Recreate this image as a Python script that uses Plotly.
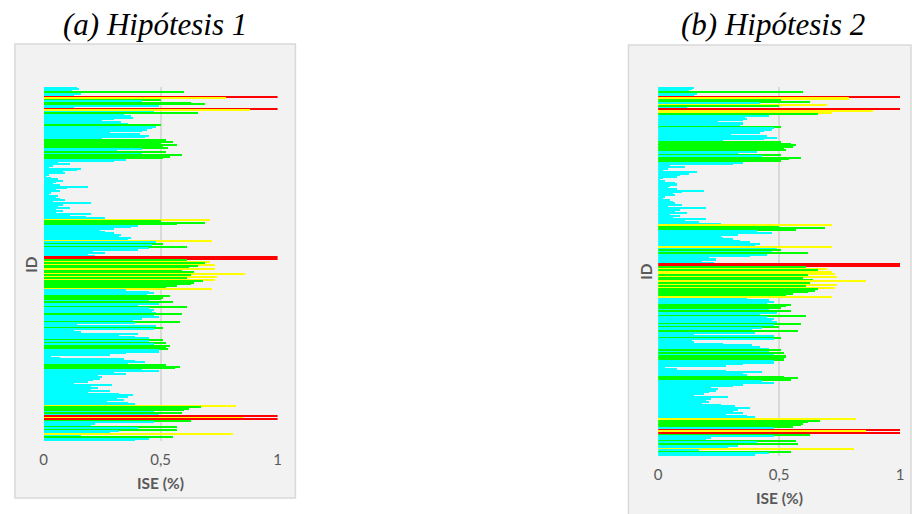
import plotly.graph_objects as go

# ISE (%) per ID, listed from the top row of each panel to the bottom row
ise_h1 = [
    0.14, 0.15, 0.12, 0.60, 0.16, 0.13, 1.00, 0.78, 0.50, 0.42,
    0.63, 0.69, 0.49, 0.13, 1.00, 0.88, 0.47, 0.66, 0.34, 0.37,
    0.38, 0.30, 0.25, 0.33, 0.36, 0.50, 0.48, 0.46, 0.44, 0.42,
    0.28, 0.41, 0.45, 0.43, 0.25, 0.52, 0.55, 0.50, 0.57, 0.51,
    0.53, 0.42, 0.31, 0.52, 0.42, 0.59, 0.54, 0.51, 0.35, 0.30,
    0.06, 0.11, 0.04, 0.02, 0.16, 0.14, 0.08, 0.09, 0.02, 0.01,
    0.03, 0.06, 0.08, 0.05, 0.04, 0.07, 0.19, 0.10, 0.05, 0.07,
    0.03, 0.02, 0.06, 0.05, 0.07, 0.09, 0.04, 0.20, 0.08, 0.06,
    0.11, 0.05, 0.08, 0.05, 0.20, 0.11, 0.18, 0.26, 0.71, 0.50,
    0.69, 0.57, 0.40, 0.37, 0.30, 0.24, 0.26, 0.30, 0.33, 0.32,
    0.37, 0.36, 0.72, 0.48, 0.51, 0.46, 0.61, 0.45, 0.40, 0.21,
    0.26, 0.19, 0.22, 1.00, 1.00, 0.61, 0.71, 0.69, 0.73, 0.66,
    0.62, 0.73, 0.59, 0.64, 0.86, 0.63, 0.74, 0.61, 0.73, 0.68,
    0.64, 0.63, 0.57, 0.52, 0.72, 0.35, 0.45, 0.47, 0.44, 0.54,
    0.51, 0.50, 0.45, 0.55, 0.49, 0.40, 0.61, 0.45, 0.47, 0.46,
    0.48, 0.59, 0.47, 0.49, 0.42, 0.38, 0.58, 0.39, 0.14, 0.48,
    0.51, 0.47, 0.13, 0.16, 0.40, 0.32, 0.39, 0.45, 0.51, 0.45,
    0.52, 0.47, 0.54, 0.52, 0.53, 0.49, 0.49, 0.35, 0.28, 0.03,
    0.07, 0.34, 0.39, 0.43, 0.36, 0.52, 0.58, 0.56, 0.42, 0.49,
    0.30, 0.35, 0.23, 0.25, 0.24, 0.21, 0.19, 0.13, 0.29, 0.20,
    0.23, 0.20, 0.28, 0.19, 0.32, 0.38, 0.36, 0.31, 0.34, 0.27,
    0.36, 0.39, 0.82, 0.67, 0.62, 0.60, 0.47, 0.59, 0.49, 1.00,
    0.85, 1.00, 0.63, 0.47, 0.22, 0.20, 0.57, 0.40, 0.57, 0.32,
    0.28, 0.81, 0.16, 0.55, 0.45, 0.39,
]

ise_h2 = [
    0.15, 0.14, 0.13, 0.60, 0.16, 0.15, 1.00, 0.79, 0.51, 0.63,
    0.42, 0.70, 0.50, 0.12, 1.00, 0.89, 0.72, 0.66, 0.46, 0.36,
    0.37, 0.35, 0.25, 0.35, 0.34, 0.51, 0.48, 0.47, 0.44, 0.42,
    0.30, 0.45, 0.49, 0.44, 0.27, 0.51, 0.55, 0.57, 0.56, 0.52,
    0.53, 0.41, 0.33, 0.51, 0.43, 0.59, 0.54, 0.51, 0.35, 0.31,
    0.05, 0.11, 0.04, 0.02, 0.16, 0.13, 0.09, 0.08, 0.02, 0.01,
    0.03, 0.07, 0.08, 0.05, 0.04, 0.08, 0.19, 0.10, 0.06, 0.07,
    0.03, 0.02, 0.05, 0.06, 0.07, 0.10, 0.04, 0.20, 0.09, 0.07,
    0.12, 0.05, 0.09, 0.06, 0.20, 0.11, 0.17, 0.26, 0.72, 0.50,
    0.69, 0.57, 0.41, 0.47, 0.33, 0.26, 0.27, 0.31, 0.34, 0.38,
    0.42, 0.40, 0.72, 0.49, 0.51, 0.47, 0.62, 0.45, 0.38, 0.21,
    0.24, 0.18, 0.23, 1.00, 1.00, 0.61, 0.70, 0.66, 0.72, 0.73,
    0.62, 0.74, 0.60, 0.64, 0.86, 0.63, 0.74, 0.61, 0.73, 0.66,
    0.65, 0.62, 0.56, 0.53, 0.72, 0.37, 0.46, 0.48, 0.45, 0.55,
    0.53, 0.51, 0.46, 0.55, 0.49, 0.42, 0.61, 0.45, 0.48, 0.47,
    0.49, 0.59, 0.48, 0.50, 0.43, 0.39, 0.58, 0.40, 0.15, 0.48,
    0.51, 0.48, 0.14, 0.15, 0.27, 0.39, 0.42, 0.46, 0.51, 0.46,
    0.52, 0.48, 0.53, 0.52, 0.52, 0.48, 0.48, 0.35, 0.28, 0.03,
    0.08, 0.28, 0.43, 0.35, 0.37, 0.52, 0.58, 0.55, 0.43, 0.48,
    0.35, 0.31, 0.22, 0.25, 0.24, 0.21, 0.19, 0.15, 0.29, 0.22,
    0.20, 0.21, 0.18, 0.26, 0.32, 0.38, 0.33, 0.31, 0.35, 0.28,
    0.37, 0.40, 0.82, 0.67, 0.62, 0.60, 0.59, 0.56, 0.48, 1.00,
    0.86, 1.00, 0.63, 0.48, 0.22, 0.20, 0.57, 0.41, 0.58, 0.33,
    0.29, 0.81, 0.17, 0.55, 0.46, 0.40,
]

ids = list(range(1, len(ise_h1) + 1))

titles = ["(a) Hipótesis 1", "(b) Hipótesis 2"]
x_ticks = [0, 0.5, 1]
x_tick_text = ["0", "0,5", "1"]
x_title = "ISE (%)"
y_title = "ID"

W, H = 912, 514


def band_color(v):
    if v >= 1.0:
        return "#FF0000"
    if v >= 0.7:
        return "#FFFF00"
    if v >= 0.5:
        return "#00FF00"
    return "#00FFFF"


def px_x(p):
    return p / W


def px_y(p):
    return 1 - p / H


# panel geometry in pixels: (plot left, plot right, plot top, plot bottom), frame box
panels = [
    dict(plot=(40, 276, 87, 441), frame=(11, 294, 44, 498)),
    dict(plot=(660, 904, 87, 456), frame=(630, 915, 45, 520)),
]

fig = go.Figure()
tick_font = dict(family="Lato, 'Open Sans', sans-serif", size=15, color="#595959")
title_font = dict(family="Lato, 'Open Sans', sans-serif", size=15.5, color="#595959")

for k, (vals, pan) in enumerate(zip([ise_h1, ise_h2], panels)):
    sfx = "" if k == 0 else str(k + 1)
    fig.add_trace(go.Bar(
        x=vals, y=ids, orientation="h",
        marker=dict(color=[band_color(v) for v in vals], line=dict(width=0)),
        xaxis="x" + sfx, yaxis="y" + sfx, showlegend=False,
    ))
    l, r, t, b = pan["plot"]
    fig.layout["xaxis" + sfx] = dict(
        domain=[px_x(l), px_x(r)], range=[0, 1], anchor="y" + sfx,
        tickvals=x_ticks, ticktext=x_tick_text, showgrid=True,
        gridcolor="#D9D9D9", gridwidth=1.5, zeroline=False, showline=False,
        ticks="", tickfont=tick_font, ticklabelstandoff=8,
    )
    fig.layout["yaxis" + sfx] = dict(
        domain=[px_y(b), px_y(t)], anchor="x" + sfx, type="category",
        autorange="reversed", showticklabels=False, showgrid=False,
        zeroline=False, showline=False, ticks="",
    )
    fl, fr, ft, fb = pan["frame"]
    fig.add_shape(type="rect", xref="paper", yref="paper",
                  x0=px_x(fl), x1=px_x(fr), y0=px_y(fb), y1=px_y(ft),
                  fillcolor="#F2F2F2", line=dict(color="#D9D9D9", width=1.5),
                  layer="below")
    # axis titles
    fig.add_annotation(text="<b>" + x_title + "</b>", xref="paper", yref="paper",
                       x=px_x((l + r) / 2), y=px_y(b + 42), showarrow=False,
                       font=title_font, xanchor="center", yanchor="middle")
    fig.add_annotation(text="<b>" + y_title + "</b>", xref="paper", yref="paper",
                       x=px_x(l - 13), y=px_y((t + b) / 2), showarrow=False,
                       textangle=-90, font=title_font,
                       xanchor="center", yanchor="middle")

# panel captions
for cap, cx in zip(titles, [152, 776]):
    fig.add_annotation(text="<i>" + cap + "</i>", xref="paper", yref="paper",
                       x=px_x(cx), y=px_y(24), showarrow=False,
                       font=dict(family="'Liberation Serif', 'Times New Roman', serif",
                                 size=31, color="#000000"),
                       xanchor="center", yanchor="middle")

fig.update_layout(
    width=W, height=H, margin=dict(l=0, r=0, t=0, b=0),
    paper_bgcolor="#FFFFFF", plot_bgcolor="#FFFFFF",
    bargap=0, barmode="overlay",
)

fig.write_html("out.html")
